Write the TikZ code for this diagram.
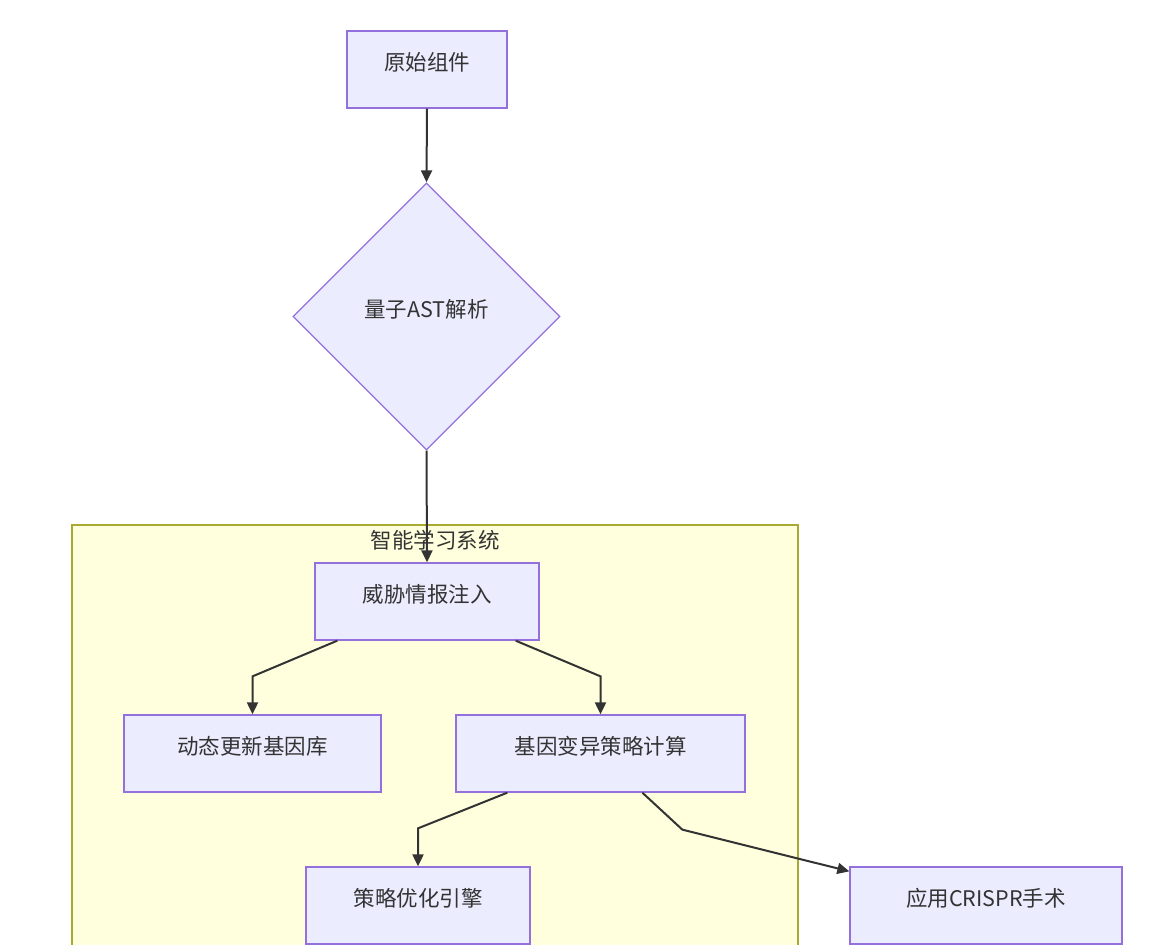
\documentclass[tikz,border=0pt]{standalone}
\usepackage{fontspec}
\setmainfont{Noto Sans CJK SC}
\usetikzlibrary{shapes.geometric,calc,arrows.meta}
\definecolor{nodefill}{HTML}{ECECFF}
\definecolor{nodeline}{HTML}{9370DB}
\definecolor{clusterfill}{HTML}{FFFFDE}
\definecolor{clusterline}{HTML}{AAAA33}
\definecolor{edgecol}{HTML}{333333}
\definecolor{txtcol}{HTML}{333333}
\begin{document}
\begin{tikzpicture}[x=1pt,y=-1pt,
  box/.style={draw=nodeline, fill=nodefill, line width=1.3pt, minimum height=77pt, inner sep=0pt},
  dia/.style={diamond, shape aspect=1, draw=nodeline, fill=nodefill, line width=1.3pt, minimum width=267pt, minimum height=267pt, inner sep=0pt},
  lbl/.style={text=txtcol, font=\fontsize{21.5pt}{24pt}\selectfont, inner sep=0pt},
  conn/.style={draw=edgecol, line width=2pt, -{Triangle[length=12pt,width=11pt]}}]
\clip (0,0) rectangle (1170,945);
\fill[white] (0,0) rectangle (1170,945);
% cluster
\draw[fill=clusterfill, draw=clusterline, line width=1.3pt] (72,525) rectangle (798,980);
\node[lbl] (cl) at (435,540) {智能学习系统};
% nodes
\node[box, minimum width=160pt] (a) at (427,69.5) {};
\node[dia] (q) at (426.5,316.5) {};
\node[box, minimum width=224pt] (t) at (427,601.5) {};
\node[box, minimum width=257pt] (d) at (252.5,753.5) {};
\node[box, minimum width=289pt] (g) at (600.5,753.5) {};
\node[box, minimum width=224pt] (s) at (418,905.5) {};
\node[box, minimum width=272pt] (c) at (986,905.5) {};
% labels
\node[lbl] (at) at ($(a.center)+(0,-7)$) {原始组件};
\node[lbl] (qt) at ($(q.center)+(0,-7)$) {量子AST解析};
\node[lbl] (tt) at ($(t.center)+(0,-7)$) {威胁情报注入};
\node[lbl] (dt) at ($(d.center)+(0,-7)$) {动态更新基因库};
\node[lbl] (gt) at ($(g.center)+(0,-7)$) {基因变异策略计算};
\node[lbl] (st) at ($(s.center)+(0,-7)$) {策略优化引擎};
\node[lbl] (ct) at ($(c.center)+(0,-7)$) {应用CRISPR手术};
% edges
\draw[conn] (a.south) -- (q.north);
\draw[conn] (q.south) -- (t.north);
\coordinate (t1) at ($(t.south west)+(23,0)$);
\coordinate (t2) at ($(t.south east)+(-24,0)$);
\coordinate (g1) at ($(g.south west)+(52,0)$);
\coordinate (g2) at ($(g.south west)+(187,0)$);
\coordinate (gb) at ($(g.south west)+(227,37)$);
\coordinate (ce) at ($(c.north west)+(0,5)$);
\draw[conn] (t1) -- ($(d.north)+(0,-38)$) -- (d.north);
\draw[conn] (t2) -- ($(g.north)+(0,-38)$) -- (g.north);
\draw[conn] (g1) -- ($(s.north)+(0,-38)$) -- (s.north);
\draw[conn] (g2) -- (gb) -- (ce);
\end{tikzpicture}
\end{document}
